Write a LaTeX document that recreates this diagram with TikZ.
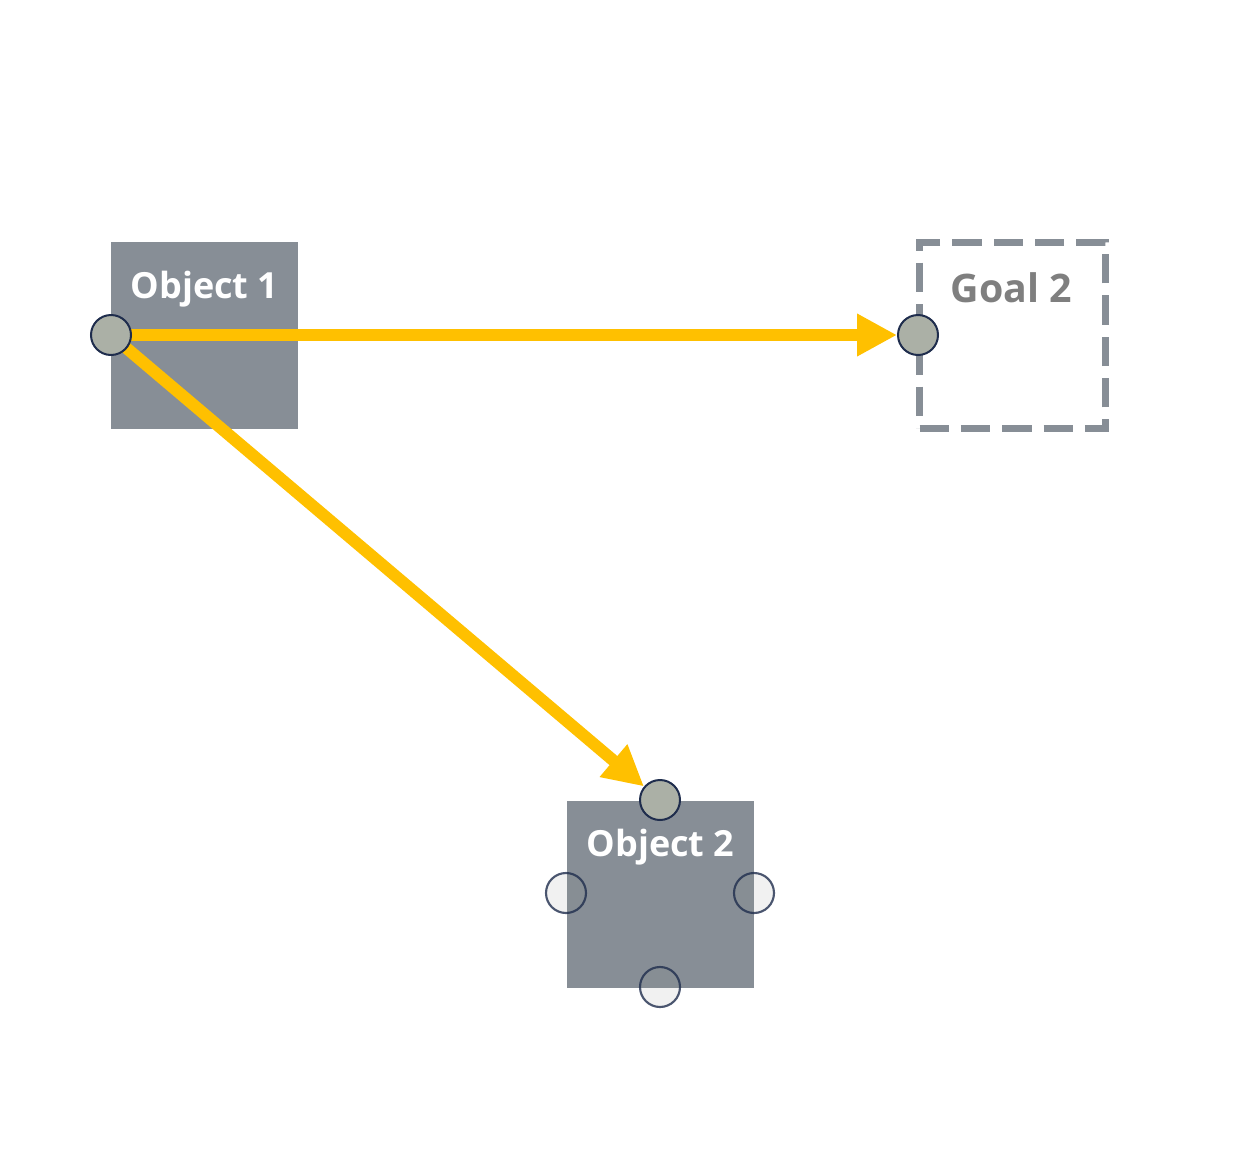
\documentclass[tikz,border=0pt]{standalone}
\usepackage{fontspec}
\setmainfont{Open Sans}
\usetikzlibrary{arrows.meta}
\definecolor{boxgray}{HTML}{878E96}
\definecolor{arrowgold}{HTML}{FFC000}
\definecolor{dotgreen}{HTML}{ABB0A6}
\definecolor{dotnavy}{HTML}{1F2D4D}
\definecolor{goaltext}{HTML}{7F7F7F}
\definecolor{portfill}{HTML}{8A8F8A}
\tikzset{
  objbox/.style={fill=boxgray, minimum size=140.25pt, inner sep=0pt},
  goalbox/.style={draw=boxgray, line width=5.25pt, dash pattern=on 22pt off 9pt, minimum size=139.5pt, inner sep=0pt},
  objtext/.style={anchor=base, text=white, font=\bfseries\fontsize{27}{30}\selectfont},
  goaltxt/.style={anchor=base, text=goaltext, font=\bfseries\fontsize{29.5}{32}\selectfont},
  port/.style={circle, draw=dotnavy, fill=dotgreen, line width=1.5pt, minimum size=30pt, inner sep=0pt},
  freeport/.style={circle, draw=dotnavy, draw opacity=0.8, fill=portfill, fill opacity=0.12, line width=1.6pt, minimum size=30pt, inner sep=0pt},
  arrowline/.style={draw=arrowgold, line width=9pt, -{Triangle[length=30pt,width=30pt]}}
}
\begin{document}
\begin{tikzpicture}[x=0.75pt, y=-0.75pt]
    \useasboundingbox (0,0) rectangle (1233,1168);
    % boxes
    \node[objbox] (obj1) at (204.5,335.5) {};
    \node[objbox] (obj2) at (660.5,894) {};
    \node[goalbox] (goal2) at (1012.5,335) {};
    % labels
    \node[objtext] (obj1text) at (204.5,298) {Object 1};
    \node[objtext] (obj2text) at (660.5,856) {Object 2};
    \node[goaltxt] (goal2text) at (1011.5,302) {Goal 2};
    % ports
    \coordinate (obj1c) at (111,335);
    \node[port] (goal2c) at (918,335) {};
    \node[port] (obj2top) at (660,800) {};
    % arrows
    \draw[arrowline] (obj1c) -- (goal2c);
    \draw[arrowline] (obj1c) -- (obj2top);
    \node[port] (obj1port) at (obj1c) {};
    \node[freeport] (obj2left) at (566,893) {};
    \node[freeport] (obj2right) at (754,893) {};
    \node[freeport] (obj2bottom) at (660,987) {};
\end{tikzpicture}
\end{document}
